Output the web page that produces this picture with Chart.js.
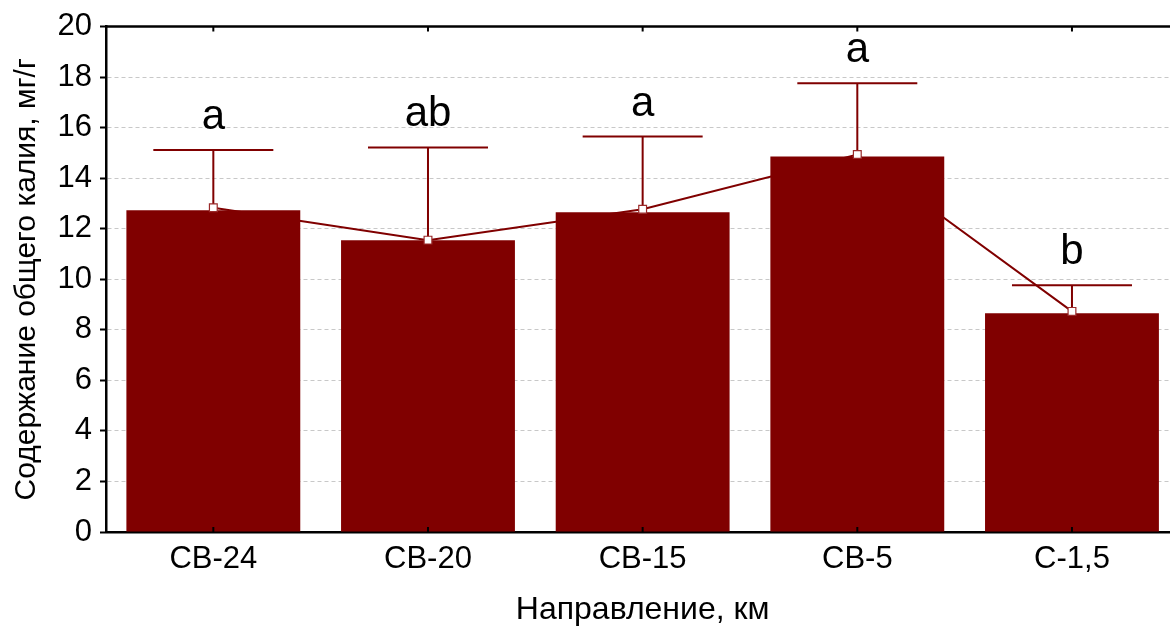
<!DOCTYPE html>
<html>
<head>
<meta charset="utf-8">
<script src="https://cdn.jsdelivr.net/npm/chart.js@4.4.1/dist/chart.umd.min.js"></script>
<style>
  html, body { margin: 0; padding: 0; background: #fff; overflow: hidden; }
  #wrap { width: 1170px; height: 629px; overflow: hidden; }
</style>
</head>
<body>
<div id="wrap"><canvas id="myChart" width="1186" height="629"></canvas></div>
<script>
// Datos
const categorias = ['СВ-24', 'СВ-20', 'СВ-15', 'СВ-5', 'С-1,5'];
const barras = [12.73, 11.55, 12.65, 14.86, 8.66];      // altura de las barras
const medias = [12.83, 11.55, 12.77, 14.94, 8.73];      // puntos de la línea
const limiteSuperior = [15.12, 15.22, 15.65, 17.76, 9.76]; // extremo de la barra de error
const letras = ['a', 'ab', 'a', 'a', 'b'];
const ticksY = [0, 2, 4, 6, 8, 10, 12, 14, 16, 18, 20];

const rojo = '#800000';
const fuente = "'Liberation Sans', Arial, sans-serif";

// Barras de error, marcas de los ejes y letras
const extras = {
  id: 'extras',
  afterDatasetDraw(chart, args) {
    if (args.index !== 0) return;
    const { ctx, scales: { x, y } } = chart;
    ctx.save();
    ctx.strokeStyle = rojo;
    ctx.lineWidth = 2;
    medias.forEach((m, i) => {
      const px = x.getPixelForValue(i);
      const y0 = y.getPixelForValue(m);
      const y1 = y.getPixelForValue(limiteSuperior[i]);
      ctx.beginPath();
      ctx.moveTo(px, y0);
      ctx.lineTo(px, y1);
      ctx.moveTo(px - 60, y1);
      ctx.lineTo(px + 60, y1);
      ctx.stroke();
    });
    ctx.restore();
  },
  afterDraw(chart) {
    const { ctx, chartArea: a, scales: { x, y } } = chart;
    ctx.save();
    // eje superior
    ctx.strokeStyle = '#000';
    ctx.lineWidth = 2.5;
    ctx.beginPath();
    ctx.moveTo(a.left - 1, a.top);
    ctx.lineTo(a.right, a.top);
    ctx.stroke();
    // marcas en las categorías
    ctx.lineWidth = 2;
    categorias.forEach((c, i) => {
      const px = x.getPixelForValue(i);
      ctx.beginPath();
      ctx.moveTo(px, a.top);
      ctx.lineTo(px, a.top + 5);
      ctx.moveTo(px, a.bottom);
      ctx.lineTo(px, a.bottom - 5);
      ctx.stroke();
    });
    // letras
    ctx.fillStyle = '#000';
    ctx.font = '42px ' + fuente;
    ctx.textAlign = 'center';
    ctx.textBaseline = 'alphabetic';
    letras.forEach((l, i) => {
      ctx.fillText(l, x.getPixelForValue(i), y.getPixelForValue(limiteSuperior[i]) - 21);
    });
    ctx.restore();
  }
};

const ctx = document.getElementById('myChart').getContext('2d');

const myChart = new Chart(ctx, {
  type: 'bar',
  data: {
    labels: categorias,
    datasets: [{
      label: 'barras',
      data: barras,
      backgroundColor: rojo,
      borderWidth: 0,
      categoryPercentage: 1,
      barPercentage: 0.81,
      order: 2
    }, {
      type: 'line',
      label: 'medias',
      data: medias,
      borderColor: rojo,
      borderWidth: 2,
      pointStyle: 'rect',
      pointRadius: 5.5,
      pointBackgroundColor: '#fff',
      pointBorderColor: '#9a2a2a',
      pointBorderWidth: 1.2,
      tension: 0,
      order: 1
    }]
  },
  options: {
    responsive: false,
    animation: false,
    layout: { padding: { top: 26, right: 3, left: 0, bottom: 0 } },
    plugins: {
      legend: { display: false },
      tooltip: { enabled: false }
    },
    scales: {
      x: {
        grid: { display: true, drawOnChartArea: false, drawTicks: false },
        border: { color: '#000', width: 2.5 },
        ticks: { color: '#000', font: { size: 31, family: fuente }, padding: 9 },
        title: {
          display: true,
          text: 'Направление, км',
          color: '#000',
          font: { size: 32, family: fuente },
          padding: { top: 6, bottom: 0 }
        },
        afterFit(scale) { scale.height = 97; }
      },
      y: {
        min: 0,
        max: 20,
        afterBuildTicks(scale) { scale.ticks = ticksY.map(v => ({ value: v })); },
        grid: {
          color: '#c8c8c8',
          lineWidth: 1,
          tickColor: '#000',
          tickLength: 6,
          tickWidth: 2,
          tickBorderDash: []
        },
        border: { color: '#000', width: 2.5, dash: [4, 3] },
        ticks: { color: '#000', font: { size: 31, family: fuente }, padding: 8 },
        title: {
          display: true,
          text: 'Содержание общего калия, мг/г',
          color: '#000',
          font: { size: 30, family: fuente },
          padding: { top: 9, bottom: 0 }
        },
        afterFit(scale) { scale.width = 106; }
      }
    }
  },
  plugins: [extras]
});
</script>
</body>
</html>
